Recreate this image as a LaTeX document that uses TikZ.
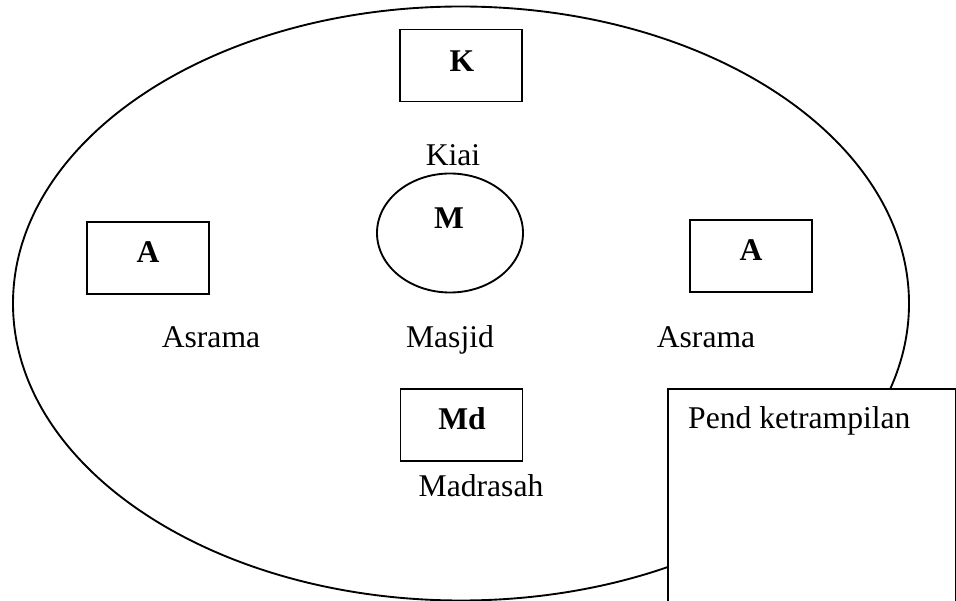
\documentclass[tikz,border=0pt]{standalone}
\usepackage{fontspec}
\setmainfont{Liberation Serif}
\usepackage{tikz}
\usetikzlibrary{shapes.geometric}

\tikzset{
  blok/.style={draw, line width=1.6pt, minimum width=3.66cm, minimum height=2.16cm},
  teks/.style={anchor=base, inner sep=0pt, font=\fontsize{27}{32}\selectfont},
  huruf/.style={teks, font=\fontsize{27}{32}\selectfont\bfseries}
}

\begin{document}
\begin{tikzpicture}[x=0.03cm,y=-0.03cm]
\useasboundingbox (0,0) rectangle (956,601);

\draw[line width=1.6pt] (461,303.5) ellipse (448 and 297);

\node[blok] (kiai) at (461,65.5) {};
\node[huruf] (k) at (462,72) {K};
\node[teks] (kiailbl) at (453,166) {Kiai};

\node[draw, ellipse, line width=1.6pt, minimum width=4.38cm, minimum height=3.57cm] (masjid) at (450,233) {};
\node[huruf] (m) at (449,229) {M};
\node[teks] (masjidlbl) at (450,348) {Masjid};

\node[blok] (asramaL) at (148,258) {};
\node[huruf] (aL) at (148,263) {A};
\node[teks] (asramaLlbl) at (211,348) {Asrama};

\node[blok] (asramaR) at (751,256) {};
\node[huruf] (aR) at (751,261) {A};
\node[teks] (asramaRlbl) at (706,348) {Asrama};

\node[blok] (madrasah) at (461.5,425) {};
\node[huruf] (md) at (462,429) {Md};
\node[teks] (madrasahlbl) at (481,496) {Madrasah};

% kotak pendidikan ketrampilan
\node[draw, fill=white, line width=1.6pt, anchor=north west, minimum width=8.64cm, minimum height=7cm] (pend) at (667,388) {};
\node[teks, anchor=base west] (pendlbl) at (688,428) {Pend ketrampilan};
\end{tikzpicture}
\end{document}
